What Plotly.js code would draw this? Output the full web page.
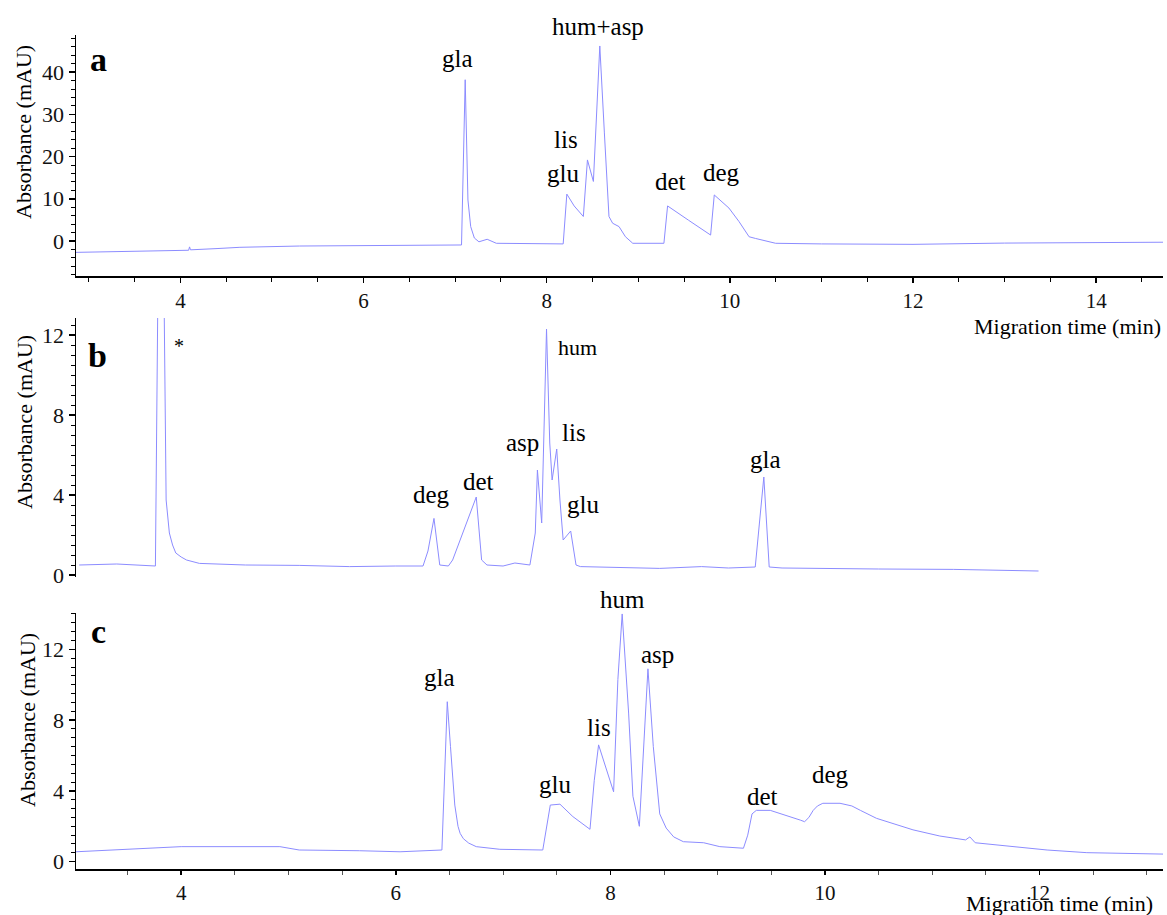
<!DOCTYPE html>
<html><head><meta charset="utf-8">
<script src="https://cdn.plot.ly/plotly-3.0.1.min.js"></script>
<style>html,body{margin:0;padding:0;background:#fff}#chart{width:1167px;height:915px}</style>
</head><body><div id="chart"></div>
<script>
// ---- Panel a: sample electropherogram (min, mAU)
const timeA = [2.86, 3.5, 4.0, 4.09, 4.10, 4.11, 4.4, 4.65, 5.3, 6.0, 6.4, 6.9, 7.07, 7.11, 7.13, 7.14, 7.17, 7.21, 7.26, 7.35, 7.45, 7.8,
  8.18, 8.22, 8.30, 8.40, 8.445, 8.51, 8.58, 8.63, 8.68, 8.72, 8.79, 8.86, 8.94, 9.28, 9.32, 9.55, 9.79, 9.83, 9.99, 10.1, 10.21, 10.28, 10.5,
  11.0, 12.0, 13.0, 14.0, 14.73];
const absA = [-2.7, -2.5, -2.3, -2.2, -1.4, -2.1, -1.8, -1.5, -1.2, -1.05, -1.0, -0.85, -0.95, 38.2, 18, 9.7, 3.4, 0.7, -0.2, 0.4, -0.55, -0.7,
  -0.7, 11.1, 8.3, 5.8, 19.2, 14.1, 46.2, 25.6, 5.8, 4.2, 3.4, 1.0, -0.55, -0.55, 8.3, 4.9, 1.4, 10.9, 7.8, 4.6, 1.0, 0.6, -0.55,
  -0.7, -0.8, -0.5, -0.4, -0.3];

// ---- Panel b
const timeB = [3.05, 3.4, 3.76, 3.81, 3.86, 3.89, 3.92, 3.95, 4.0, 4.05, 4.17, 4.6, 5.1, 5.57, 6.0, 6.254, 6.30, 6.356, 6.41, 6.49, 6.53, 6.75,
  6.80, 6.85, 7.0, 7.11, 7.25, 7.30, 7.32, 7.36, 7.405, 7.435, 7.457, 7.50, 7.53, 7.56, 7.63, 7.68, 7.72, 8.1, 8.46,
  8.85, 9.1, 9.35, 9.43, 9.48, 9.6, 10.5, 11.2, 11.99];
const absB = [0.5, 0.55, 0.45, 30, 3.75, 2.1, 1.5, 1.1, 0.9, 0.75, 0.58, 0.5, 0.48, 0.42, 0.45, 0.45, 1.2, 2.83, 0.5, 0.45, 0.75, 3.9,
  0.75, 0.5, 0.45, 0.6, 0.5, 2.1, 5.25, 2.6, 12.3, 6.6, 4.75, 6.3, 3.75, 1.75, 2.2, 0.5, 0.42, 0.38, 0.33,
  0.42, 0.35, 0.4, 4.9, 0.4, 0.35, 0.3, 0.28, 0.2];

// ---- Panel c
const timeC = [3.02, 3.7, 4.0, 4.92, 5.1, 5.66, 6.04, 6.43, 6.48, 6.51, 6.53, 6.55, 6.58, 6.60, 6.63, 6.68, 6.75, 6.97, 7.37, 7.40, 7.44, 7.53, 7.65, 7.81,
  7.85, 7.89, 8.03, 8.07, 8.11, 8.17, 8.21, 8.27, 8.32, 8.35, 8.40, 8.46, 8.52, 8.59, 8.68, 8.87, 9.02, 9.24, 9.28, 9.32, 9.36,
  9.49, 9.77, 9.81, 9.85, 9.89, 9.93, 9.98, 10.14, 10.25, 10.33, 10.48, 10.82, 11.07, 11.31, 11.35, 11.40, 11.76, 12.07, 12.44, 13.15];
const absC = [0.56, 0.75, 0.85, 0.85, 0.66, 0.62, 0.56, 0.66, 9.04, 6.5, 4.6, 3.2, 2.0, 1.6, 1.3, 1.05, 0.85, 0.7, 0.66, 1.8, 3.2, 3.25, 2.55, 1.83,
  4.6, 6.6, 3.95, 10.3, 14.0, 8.4, 3.7, 2.0, 7.4, 10.9, 6.5, 2.7, 1.9, 1.4, 1.13, 1.07, 0.85, 0.76, 1.5, 2.7, 2.9,
  2.9, 2.35, 2.26, 2.5, 2.9, 3.15, 3.3, 3.3, 3.15, 2.9, 2.45, 1.8, 1.45, 1.23, 1.4, 1.07, 0.85, 0.66, 0.51, 0.43];

const panelLetters = ["a", "b", "c"];
const peakLabelsA = ["gla", "hum+asp", "lis", "glu", "det", "deg"];
const peakLabelsB = ["*", "hum", "asp", "lis", "glu", "deg", "det", "gla"];
const peakLabelsC = ["gla", "glu", "lis", "hum", "asp", "det", "deg"];
const xTitle = "Migration time (min)";
const yTitle = "Absorbance (mAU)";

const W = 1167, H = 915;
const FONT = "Liberation Serif, Times New Roman, serif";
const LINE = "rgb(140,140,255)";

const tr = (x, y, xa, ya) => ({x, y, xaxis: xa, yaxis: ya, type: "scatter", mode: "lines",
  line: {color: LINE, width: 1}, hoverinfo: "skip"});
const data = [tr(timeA, absA, "x", "y"), tr(timeB, absB, "x2", "y2"), tr(timeC, absC, "x3", "y3")];

const px = v => v / W, py = v => 1 - v / H;
const xdom = [px(76), px(1163)];
const tfont = {family: FONT, size: 22, color: "#111"};
const xtfont = {family: FONT, size: 21, color: "#111"};
const axBase = {showline: true, linecolor: "#000", linewidth: 1.5, ticks: "outside", ticklen: 6, tickwidth: 1.5,
  tickcolor: "#000", showgrid: false, zeroline: false, tickfont: tfont, fixedrange: true};

function ann(text, x, y, size, opts) {
  return Object.assign({text, x: px(x), y: py(y), xref: "paper", yref: "paper", showarrow: false,
    xanchor: "center", yanchor: "middle", font: {family: FONT, size, color: "#000"}}, opts || {});
}
const bold = t => "<b>" + t + "</b>";

const posA = [[457, 59], [598, 26], [566, 139], [563, 174], [670, 181], [721, 172]];
const posB = [[179, 346], [577, 347], [522, 442], [574, 432], [583, 504], [431, 494], [478, 481], [765, 459]];
const posC = [[439, 677], [555, 784], [599, 727], [622, 599], [658, 654], [763, 796], [830, 774]];

const annotations = [
  ann(bold(panelLetters[0]), 98, 60, 34), ann(bold(panelLetters[1]), 97, 355, 34), ann(bold(panelLetters[2]), 98, 631, 34),
  ann(xTitle, 1163, 326, 22, {xanchor: "right"}),
  ann(xTitle, 1155, 903, 22, {xanchor: "right"}),
  ann(yTitle, 24, 132, 22, {textangle: -90}),
  ann(yTitle, 24, 422, 22, {textangle: -90}),
  ann(yTitle, 27, 720, 22, {textangle: -90}),
];
peakLabelsA.forEach((t, i) => annotations.push(ann(t, posA[i][0], posA[i][1], 25)));
peakLabelsB.forEach((t, i) => annotations.push(ann(t, posB[i][0], posB[i][1], t === "hum" ? 22 : (t === "*" ? 20 : 25))));
peakLabelsC.forEach((t, i) => annotations.push(ann(t, posC[i][0], posC[i][1], 25)));

const layout = {
  width: W, height: H, margin: {l: 0, r: 0, t: 0, b: 0}, paper_bgcolor: "#fff", plot_bgcolor: "#fff",
  showlegend: false, font: {family: FONT, color: "#000"},
  xaxis: Object.assign({}, axBase, {domain: xdom, anchor: "y", range: [2.86, 14.73], dtick: 2, tick0: 0, ticklen: 5, tickfont: xtfont,
    minor: {dtick: 0.5, ticks: "outside", ticklen: 4, tickwidth: 1, tickcolor: "#000"}}),
  yaxis: Object.assign({}, axBase, {domain: [py(276), py(35)], anchor: "x", range: [-8.3, 48.8], dtick: 10, tick0: 0,
    minor: {dtick: 2, ticks: "outside", ticklen: 3.5, tickwidth: 1, tickcolor: "#000"}}),
  xaxis2: {domain: xdom, anchor: "y2", range: [3.02, 13.15], visible: false, fixedrange: true},
  yaxis2: Object.assign({}, axBase, {domain: [py(577), py(318)], anchor: "x2", range: [-0.1, 12.85], dtick: 4, tick0: 0,
    minor: {dtick: 0.5, ticks: "outside", ticklen: 3.5, tickwidth: 1, tickcolor: "#000"}}),
  xaxis3: Object.assign({}, axBase, {domain: xdom, anchor: "y3", range: [3.02, 13.15], dtick: 2, tick0: 0, ticklen: 4, tickfont: xtfont,
    minor: {dtick: 0.5, ticks: "outside", ticklen: 4, tickwidth: 1, tickcolor: "#555"}}),
  yaxis3: Object.assign({}, axBase, {domain: [py(869.3), py(612.7)], anchor: "x3", range: [-0.43, 14.07], dtick: 4, tick0: 0,
    minor: {dtick: 0.5, ticks: "outside", ticklen: 3.5, tickwidth: 1, tickcolor: "#000"}}),
  annotations
};
Plotly.newPlot("chart", data, layout, {displayModeBar: false, staticPlot: true});
</script></body></html>
